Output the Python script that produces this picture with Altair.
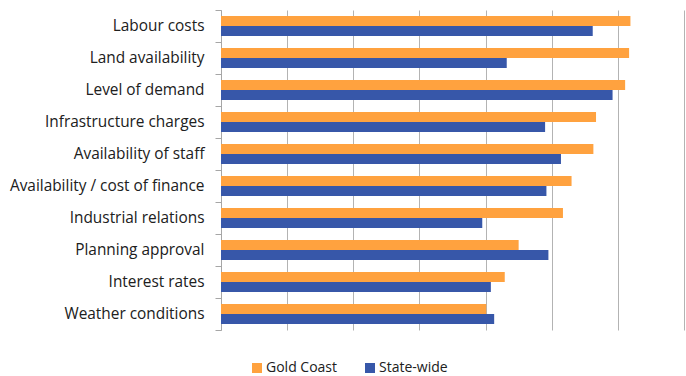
import altair as alt
import pandas as pd

categories = [
    "Labour costs", "Land availability", "Level of demand", "Infrastructure charges",
    "Availability of staff", "Availability / cost of finance", "Industrial relations",
    "Planning approval", "Interest rates", "Weather conditions",
]
gold_coast = [6.19, 6.17, 6.11, 5.67, 5.63, 5.30, 5.17, 4.50, 4.29, 4.01]
state_wide = [5.62, 4.32, 5.92, 4.90, 5.14, 4.92, 3.95, 4.95, 4.08, 4.13]
series = ["Gold Coast", "State-wide"]
colors = ["#FFA23F", "#3757A9"]

rows = []
for c, g, s in zip(categories, gold_coast, state_wide):
    rows.append({"factor": c, "series": series[0], "value": g})
    rows.append({"factor": c, "series": series[1], "value": s})
df = pd.DataFrame(rows)

FONT = "Open Sans"

chart = alt.Chart(df).mark_bar().encode(
    x=alt.X("value:Q", scale=alt.Scale(domain=[0, 7], nice=False),
            axis=alt.Axis(values=[0, 1, 2, 3, 4, 5, 6, 7], labels=False, ticks=False,
                          domain=False, grid=True, gridColor="#b3b3b3", title=None)),
    y=alt.Y("factor:N", sort=categories,
            scale=alt.Scale(paddingInner=0, paddingOuter=0),
            axis=alt.Axis(title=None, grid=False, domainColor="#a6a6a6", tickColor="#a6a6a6",
                          tickSize=6, labelPadding=11, labelFontSize=15.4, labelFont=FONT,
                          labelColor="#202020", bandPosition=1, tickExtra=True,
                          labelLimit=300)),
    yOffset=alt.YOffset("series:N", sort=series,
                        scale=alt.Scale(paddingInner=0, paddingOuter=0.6)),
    color=alt.Color("series:N", sort=series,
                    scale=alt.Scale(domain=series, range=colors),
                    legend=alt.Legend(title=None, orient="none", legendX=29, legendY=351,
                                      direction="horizontal", symbolType="square",
                                      symbolSize=100, symbolStrokeWidth=0,
                                      labelFont=FONT, labelFontSize=14, labelColor="#202020",
                                      columnPadding=25, labelOffset=2, labelLimit=200)),
).properties(
    width=463, height=320,
    autosize=alt.AutoSizeParams(type="none"),
    padding={"left": 221, "top": 10, "right": 2, "bottom": 46},
).configure_view(stroke=None)

chart.save("out.html", embed_options={"renderer": "svg", "actions": False})
